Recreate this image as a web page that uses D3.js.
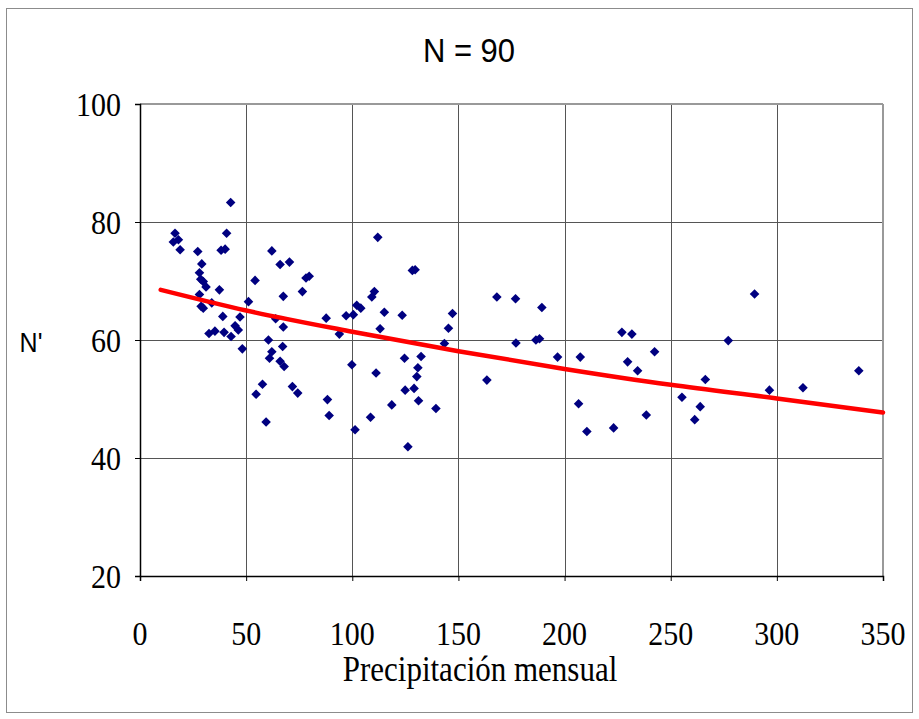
<!DOCTYPE html>
<html><head><meta charset="utf-8">
<script src="https://cdn.jsdelivr.net/npm/d3@7"></script>
<style>body{margin:0;background:#fff}svg{display:block}</style>
</head><body>
<script>
const title = "N = 90";
const xLabel = "Precipitación mensual";
const yLabel = "N'";
const xTicks = [0,50,100,150,200,250,300,350];
const yTicks = [20,40,60,80,100];
const precip = [42.7,16.5,15.7,18.1,18.9,40.8,27.2,38.2,40.1,29.1,28.0,28.6,29.8,31.1,37.4,28.0,28.8,29.8,33.8,39.0,47.1,51.1,54.2,62.1,66.0,70.4,78.2,79.7,76.5,67.5,63.9,67.5,44.8,46.3,32.5,35.3,39.6,42.9,48.2,60.5,62.1,61.0,67.2,66.0,67.9,57.7,54.7,71.8,74.3,59.4,112.0,128.3,129.6,110.4,109.2,102.1,104.0,87.7,97.1,100.5,115.1,123.5,147.2,145.3,113.1,93.9,143.4,124.6,132.4,130.9,130.4,111.2,99.8,124.9,129.1,131.2,118.6,139.4,88.3,89.1,108.6,101.3,126.2,163.4,168.1,176.9,189.3,177.1,186.5,188.2,196.7,207.4,206.6,210.5,223.1,227.0,231.7,229.7,234.4,242.4,238.5,255.3,261.3,263.9,289.5,277.1,266.3,296.5,312.3,338.6];
const nPrime = [83.3,78.1,76.6,77.0,75.3,78.1,75.0,75.2,75.4,72.9,71.4,70.3,69.9,69.0,68.5,67.7,65.7,65.4,66.3,64.0,63.9,66.5,70.1,75.1,72.8,73.2,70.5,70.8,68.2,67.4,63.6,62.2,62.4,61.7,61.1,61.5,61.3,60.6,58.5,60.0,58.0,56.9,58.9,56.4,55.5,52.5,50.8,52.1,51.0,46.1,77.4,71.8,71.9,68.2,67.3,65.9,65.4,63.7,64.1,64.3,64.7,64.2,64.5,62.0,61.9,61.0,59.4,56.9,57.2,55.3,53.8,54.4,55.8,51.5,51.8,49.7,49.0,48.4,49.9,47.2,46.9,44.8,41.9,53.2,67.3,67.0,65.5,59.5,60.0,60.2,57.1,57.1,49.2,44.5,45.1,61.3,61.0,56.3,54.8,58.0,47.3,50.3,46.5,48.7,67.8,59.9,53.3,51.5,51.9,54.8];
const trendX = [9.75,50,100,150,200,250,300,350];
const trendY = [68.5,65.0,61.4,58.1,55.1,52.4,50.1,47.7];

const W = 919, H = 719;
const m = {left:140, right:883, top:104, bottom:576};
const serif = "'Liberation Serif','Times New Roman',serif";
const sans = "'Liberation Sans Narrow','Liberation Sans',Arial,sans-serif";
const svg = d3.select("body").append("svg").attr("width",W).attr("height",H);

svg.append("rect").attr("x",6.5).attr("y",8.5).attr("width",906).attr("height",704)
  .attr("fill","none").attr("stroke","#8c8c8c").attr("stroke-width",1);

const x = d3.scaleLinear().domain([0,350]).range([m.left,m.right]);
const y = d3.scaleLinear().domain([20,100]).range([m.bottom,m.top]);

const g = svg.append("g");
g.selectAll(".vg").data(xTicks.slice(1)).enter().append("line")
  .attr("x1",d=>Math.round(x(d))+0.5).attr("x2",d=>Math.round(x(d))+0.5)
  .attr("y1",m.top).attr("y2",m.bottom).attr("stroke","#555").attr("stroke-width",1);
g.selectAll(".hg").data(yTicks.slice(1)).enter().append("line")
  .attr("y1",d=>Math.round(y(d))+0.5).attr("y2",d=>Math.round(y(d))+0.5)
  .attr("x1",m.left).attr("x2",m.right).attr("stroke","#555").attr("stroke-width",1);
svg.append("line").attr("x1",m.left).attr("x2",m.right).attr("y1",m.top).attr("y2",m.top)
  .attr("stroke","#999").attr("stroke-width",2);
svg.append("line").attr("x1",m.right).attr("x2",m.right).attr("y1",m.top).attr("y2",m.bottom)
  .attr("stroke","#999").attr("stroke-width",2);

const xAxis = d3.axisBottom(x).tickValues(xTicks).tickSize(5).tickFormat("");
const yAxis = d3.axisLeft(y).tickValues(yTicks).tickSize(5).tickFormat("");
const gx = svg.append("g").attr("transform",`translate(0,${m.bottom})`).call(xAxis);
const gy = svg.append("g").attr("transform",`translate(${m.left},0)`).call(yAxis);
[gx,gy].forEach(a=>{
  a.select(".domain").attr("stroke","#000").attr("stroke-width",1.5);
  a.selectAll(".tick line").attr("stroke","#000");
});
const sy = 1.14;
svg.append("g").selectAll("text").data(xTicks).enter().append("text")
  .attr("transform",d=>`translate(${x(d)},645) scale(1,${sy})`)
  .attr("text-anchor","middle").attr("font-family",serif).attr("font-size",30).text(d=>d);
svg.append("g").selectAll("text").data(yTicks).enter().append("text")
  .attr("transform",d=>`translate(121,${y(d)+11.5}) scale(1,${sy})`)
  .attr("text-anchor","end").attr("font-family",serif).attr("font-size",30).text(d=>d);

svg.append("g").selectAll("path").data(precip.map((p,i)=>[p,nPrime[i]])).enter().append("path")
  .attr("d",d3.symbol(d3.symbolSquare,46))
  .attr("transform",d=>`translate(${x(d[0])},${y(d[1])}) rotate(45)`)
  .attr("fill","#000080");

const line = d3.line().x(d=>x(d[0])).y(d=>y(d[1])).curve(d3.curveMonotoneX);
svg.append("path").datum(trendX.map((v,i)=>[v,trendY[i]]))
  .attr("d",line).attr("fill","none").attr("stroke","#ff0000").attr("stroke-width",4.5)
  .attr("stroke-linecap","round");

svg.append("text").attr("transform",`translate(469,62) scale(1,1.1)`).attr("text-anchor","middle")
  .attr("font-family",sans).attr("font-size",31).text(title);
svg.append("text").attr("transform",`translate(480,681) scale(1,${sy})`).attr("text-anchor","middle")
  .attr("font-family",serif).attr("font-size",31).text(xLabel);
svg.append("text").attr("transform",`translate(31,352) scale(1,1.1)`).attr("text-anchor","middle")
  .attr("font-family",sans).attr("font-size",25).text(yLabel);
</script>
</body></html>
